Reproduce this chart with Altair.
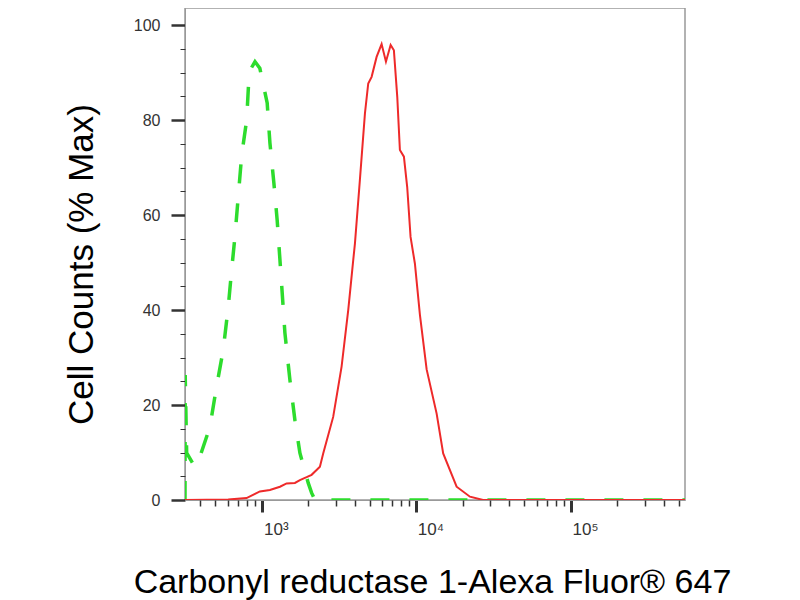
import altair as alt
import pandas as pd

# isotype control (green, dashed)
ctrl_x = [318, 319, 326, 368, 397, 461, 509, 562, 606, 637, 669, 703, 740, 797,
          828, 902, 970, 1082, 1127, 1196, 1256, 1309, 1409, 1518, 1636, 1762,
          1994, 2098, 2204, 547000]
ctrl_y = [0, 26.3, 9.9, 7.0, 9.1, 15.4, 23.9, 31.6, 40.7, 48.4, 55.4, 63.9, 72.6,
          80.0, 90.2, 92.3, 90.9, 83.6, 75.2, 66.7, 58.9, 50.5, 35.2, 25.3, 16.8,
          9.9, 3.6, 1.5, 0, 0]

# stained sample (red, solid)
stain_x = [318, 605, 796, 971, 1127, 1309, 1445, 1636, 1762, 1947, 2098, 2374,
           2493, 2893, 3279, 3620, 3900, 4000, 4307, 4644, 4877, 5130, 5525,
           5953, 6350, 6809, 7148, 7516, 7816, 8299, 8716, 9163, 9774, 10535,
           11645, 13515, 14900, 18200, 22200, 27000, 547000]
stain_y = [0, 0.1, 0.4, 1.8, 2.1, 2.8, 3.5, 3.6, 4.2, 4.8, 5.3, 7.0, 9.8, 17.5,
           28.1, 40.0, 50.5, 54.0, 67.4, 81.4, 87.7, 89.1, 93.3, 96.0, 92.3,
           95.8, 94.7, 84.9, 73.7, 72.3, 65.9, 55.4, 49.8, 39.0, 27.5, 18.2, 9.8,
           2.8, 0.7, 0, 0]

x_major = [1000, 10000, 100000]
x_minor = [400, 500, 600, 700, 800, 900, 2000, 3000, 4000, 5000, 6000, 7000,
           8000, 9000, 20000, 30000, 40000, 50000, 60000, 70000, 80000, 90000,
           200000, 300000, 400000, 500000]
y_major = [0, 20, 40, 60, 80, 100]
y_minor = [5, 10, 15, 25, 30, 35, 45, 50, 55, 65, 70, 75, 85, 90, 95]

ctrl = pd.DataFrame({"x": ctrl_x, "y": ctrl_y, "i": range(len(ctrl_x))})
stain = pd.DataFrame({"x": stain_x, "y": stain_y, "i": range(len(stain_x))})

font = "Liberation Sans"
x_scale = alt.Scale(type="log", domain=[318, 547000], nice=False)
y_scale = alt.Scale(domain=[0, 103.6], nice=False)

x_main = alt.X(
    "x:Q",
    scale=x_scale,
    axis=alt.Axis(
        orient="bottom",
        values=x_major,
        labelExpr="datum.value == 1000 ? '10³' : datum.value == 10000 ? '10⁴' : '10⁵'",
        tickSize=12,
        tickWidth=3,
        tickColor="#333",
        domainColor="#999",
        labelFont=font,
        labelFontSize=17,
        labelColor="#333",
        labelOffset=14,
        labelPadding=9,
        labelFlush=False,
        grid=False,
        title="Carbonyl reductase 1-Alexa Fluor® 647",
        titleFont=font,
        titleFontSize=34,
        titleFontWeight="normal",
        titleColor="black",
        titleBaseline="alphabetic",
        titleAlign="center",
        titleX=247,
        titleY=92,
    ),
)

y_main = alt.Y(
    "y:Q",
    scale=y_scale,
    axis=alt.Axis(
        orient="left",
        values=y_major,
        tickSize=14,
        tickWidth=2.5,
        tickColor="#333",
        domainColor="#999",
        labelFont=font,
        labelFontSize=16,
        labelColor="#333",
        labelPadding=11,
        labelFlush=False,
        grid=False,
        title="Cell Counts (% Max)",
        titleFont=font,
        titleFontSize=35,
        titleFontWeight="normal",
        titleColor="black",
        titleBaseline="alphabetic",
        titleAlign="center",
        titleAngle=270,
        titleX=-93,
        titleY=256,
    ),
)

# minor ticks: a second axis on the same side, ticks only
x_small = alt.X(
    "x:Q",
    scale=x_scale,
    axis=alt.Axis(orient="bottom", values=x_minor, tickSize=6, tickWidth=1.5,
                  tickColor="#333", labels=False, domain=False, grid=False,
                  title=None),
)
y_small = alt.Y(
    "y:Q",
    scale=y_scale,
    axis=alt.Axis(orient="left", values=y_minor, tickSize=5, tickWidth=1,
                  tickColor="#333", labels=False, domain=False, grid=False,
                  title=None),
)

green = (
    alt.Chart(ctrl)
    .mark_line(color="#2ddc2d", strokeWidth=3.5, strokeDash=[19, 20], clip=True)
    .encode(x=x_main, y=y_main, order="i:Q")
)

red = (
    alt.Chart(stain)
    .mark_line(color="#ee2a2a", strokeWidth=2, clip=True)
    .encode(x=x_small, y=y_small, order="i:Q")
)

chart = (
    alt.layer(green, red)
    .resolve_axis(x="independent", y="independent")
    .properties(
        width=500,
        height=492,
        autosize=alt.AutoSizeParams(type="none"),
        padding={"left": 177, "top": 0, "right": 107, "bottom": 100},
    )
    .configure_view(stroke="#999", strokeWidth=1.5)
)

chart.save("out.html", embed_options={"renderer": "svg", "actions": False})
